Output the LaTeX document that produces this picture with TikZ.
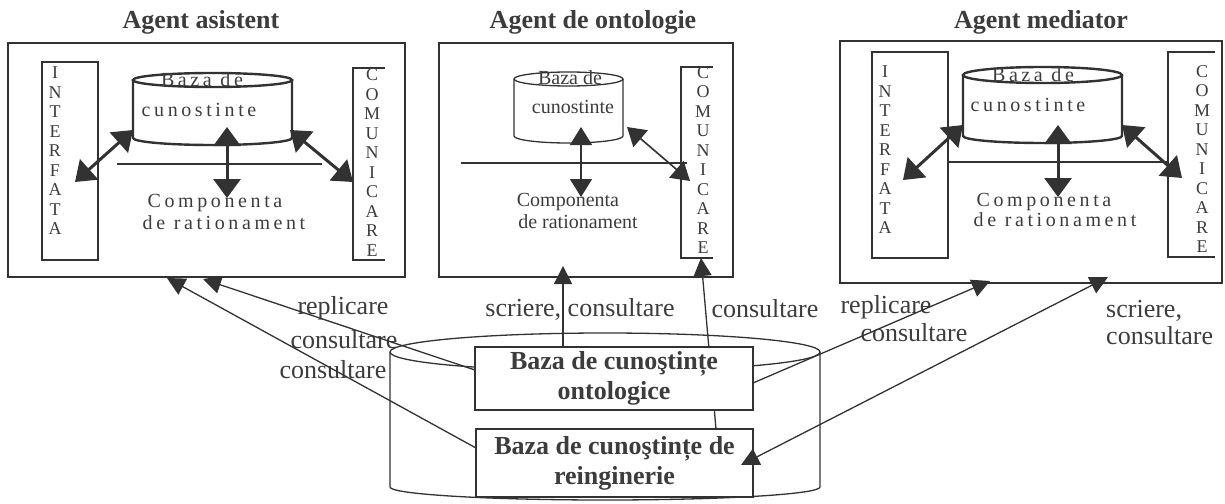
\documentclass[tikz,border=0pt]{standalone}
\usepackage{fontspec}
\setmainfont{Liberation Serif}
\newfontfamily\spaced{Liberation Serif}[LetterSpace=18]
\usetikzlibrary{arrows.meta}
\definecolor{ink}{RGB}{50,50,50}
\definecolor{txt}{RGB}{60,60,60}
\tikzset{
 frame/.style={draw=ink, line width=1.2pt},
 title/.style={font=\fontsize{26}{30}\selectfont\bfseries, text=txt, inner sep=0pt},
 lbl/.style={font=\fontsize{26}{30}\selectfont, text=txt, inner sep=0pt},
 intext/.style={font=\fontsize{20}{24}\selectfont, text=txt, inner sep=0pt},
 intextsp/.style={font=\fontsize{20}{24}\selectfont\spaced, text=txt, inner sep=0pt},
 vlet/.style={font=\fontsize{18}{19.5}\selectfont, text=txt, align=center, inner sep=0pt},
 kbox/.style={frame, fill=white, font=\fontsize{26}{30}\selectfont\bfseries, text=txt, align=center, inner sep=0pt},
 dbl/.style={draw=ink, line width=3pt, {Triangle[length=19pt,width=27pt]}-{Triangle[length=19pt,width=27pt]}},
 dblthin/.style={draw=ink, line width=1.6pt, {Triangle[length=18pt,width=22pt]}-{Triangle[length=18pt,width=22pt]}},
 link/.style={draw=ink, line width=1.3pt, -{Triangle[length=18pt,width=18pt]}},
 linkdbl/.style={draw=ink, line width=1.3pt, {Triangle[length=18pt,width=18pt]}-{Triangle[length=18pt,width=18pt]}},
 cylthick/.style={draw=ink, line width=2.4pt},
 cylthin/.style={draw=ink, line width=1.3pt},
}
% #1 style, #2 x1, #3 x2, #4 y top, #5 y bottom, #6 ry top, #7 ry bottom
\newcommand\drawcyl[7]{%
 \pgfmathsetmacro\cxm{(#2+#3)/2}%
 \pgfmathsetmacro\rxa{(#3-#2)/2}%
 \pgfmathsetmacro\hax{0.5523*\rxa}%
 \pgfmathsetmacro\hb{0.5523*#7}%
 \draw[#1] (\cxm,#4) ellipse [x radius=\rxa, y radius=#6];
 \draw[#1] (#2,#4) -- (#2,#5) .. controls (#2,#5+\hb) and (\cxm-\hax,#5+#7) .. (\cxm,#5+#7)
   .. controls (\cxm+\hax,#5+#7) and (#3,#5+\hb) .. (#3,#5) -- (#3,#4);
}
\begin{document}
\begin{tikzpicture}[x=1pt,y=-1pt]
\useasboundingbox (0,0) rectangle (1225,503);

% ---------- Agent asistent ----------
\node[title] (t1) at (201,22) {Agent asistent};
\node[frame, minimum width=397pt, minimum height=234pt] (ag1) at (206.5,160) {};
\node[frame, minimum width=56pt, minimum height=198pt] (if1) at (70,161) {};
\node[vlet] (if1t) at (55,151) {I\\N\\T\\E\\R\\F\\A\\T\\A};
\draw[frame] (385,68) -- (353,68) -- (353,260) -- (385,260);
\node[vlet] (co1t) at (372,162.5) {C\\O\\M\\U\\N\\I\\C\\A\\R\\E};
\drawcyl{cylthick}{133}{292}{80}{138}{7}{7}
\draw[frame] (117,164) -- (322,164);
\node[intextsp] (b1a) at (202,80) {Baza de};
\node[intextsp] (b1b) at (199,110) {cunostinte};
\node[intextsp] (c1a) at (215,203) {Componenta};
\node[intextsp] (c1b) at (224,223) {de rationament};
\coordinate (k1l) at (133,130); \coordinate (i1) at (75,182);
\coordinate (k1m) at (227,127); \coordinate (r1) at (227,198);
\coordinate (k1r) at (290,130); \coordinate (m1) at (353,182);
\draw[dbl] (k1l) -- (i1);
\draw[dbl] (k1m) -- (r1);
\draw[dbl] (k1r) -- (m1);

% ---------- Agent de ontologie ----------
\node[title] (t2) at (593,22) {Agent de ontologie};
\node[frame, minimum width=294pt, minimum height=234pt] (ag2) at (586,160) {};
\draw[frame] (713,67) -- (681,67) -- (681,258) -- (713,258);
\node[vlet] (co2t) at (703,160) {C\\O\\M\\U\\N\\I\\C\\A\\R\\E};
\drawcyl{cylthin}{514}{623}{79}{136}{7}{7}
\draw[frame] (461,163) -- (687,163);
\node[intext] (b2a) at (570,78) {Baza de};
\node[intext] (b2b) at (573,107) {cunostinte};
\node[intext] (c2a) at (568,202) {Componenta};
\node[intext] (c2b) at (578,222) {de rationament};
\coordinate (k2m) at (581,127); \coordinate (r2) at (581,197);
\coordinate (k2r) at (627,127); \coordinate (m2) at (690,181);
\draw[dblthin] (k2m) -- (r2);
\draw[dblthin] (k2r) -- (m2);

% ---------- Agent mediator ----------
\node[title] (t3) at (1041,22) {Agent mediator};
\node[frame, minimum width=382pt, minimum height=242pt] (ag3) at (1031,162) {};
\node[frame, minimum width=76pt, minimum height=206pt] (if3) at (910,155) {};
\node[vlet] (if3t) at (885,150) {I\\N\\T\\E\\R\\F\\A\\T\\A};
\draw[frame] (1215,52) -- (1168,52) -- (1168,257) -- (1215,257);
\node[vlet] (co3t) at (1202,159) {C\\O\\M\\U\\N\\I\\C\\A\\R\\E};
\drawcyl{cylthick}{963}{1122}{75}{136}{8}{7}
\draw[frame] (948,162) -- (1167,162);
\node[intextsp] (b3a) at (1033,75) {Baza de};
\node[intextsp] (b3b) at (1028,105) {cunostinte};
\node[intextsp] (c3a) at (1044,202) {Componenta};
\node[intextsp] (c3b) at (1055,220) {de rationament};
\coordinate (k3l) at (963,125); \coordinate (i3) at (903,180);
\coordinate (k3m) at (1058,125); \coordinate (r3) at (1058,197);
\coordinate (k3r) at (1122,125); \coordinate (m3) at (1182,178);
\draw[dbl] (k3l) -- (i3);
\draw[dbl] (k3m) -- (r3);
\draw[dbl] (k3r) -- (m3);

% ---------- bottom knowledge bases ----------
\drawcyl{cylthin}{390}{820}{352}{487}{19}{13}

\node[lbl] (l1) at (343,308) {replicare};
\node[lbl] (l2) at (344,340) {consultare};
\node[lbl] (l3) at (333,370) {consultare};
\node[lbl] (l4) at (580,309) {scriere, consultare};
\node[lbl] (l5) at (765,309) {consultare};
\node[lbl] (l6) at (886,307) {replicare};
\node[lbl] (l7) at (914,333) {consultare};
\node[lbl, anchor=west] (l8) at (1106,311) {scriere,};
\node[lbl, anchor=west] (l9) at (1106,336) {consultare};

\coordinate (a1s) at (475,370); \coordinate (a1e) at (203,279);
\coordinate (a2s) at (476,448); \coordinate (a2e) at (167,278);
\coordinate (a3s) at (563,347); \coordinate (a3e) at (563,266);
\coordinate (a4s) at (716,429); \coordinate (a4e) at (701,258);
\coordinate (a5s) at (753,383); \coordinate (a5e) at (990,281);
\coordinate (a6s) at (741,465); \coordinate (a6e) at (1108,277);

\draw[link] (a4s) -- (a4e);
\node[kbox, minimum width=278pt, minimum height=63pt] (onto) at (614,378.5) {Baza de cunoştințe\\ontologice};
\node[kbox, minimum width=277pt, minimum height=68pt] (rein) at (614.5,463) {Baza de cunoştințe de\\reinginerie};
\draw[link] (a1s) -- (a1e);
\draw[link] (a2s) -- (a2e);
\draw[link] (a3s) -- (a3e);
\draw[link] (a5s) -- (a5e);
\draw[linkdbl] (a6s) -- (a6e);
\end{tikzpicture}
\end{document}
